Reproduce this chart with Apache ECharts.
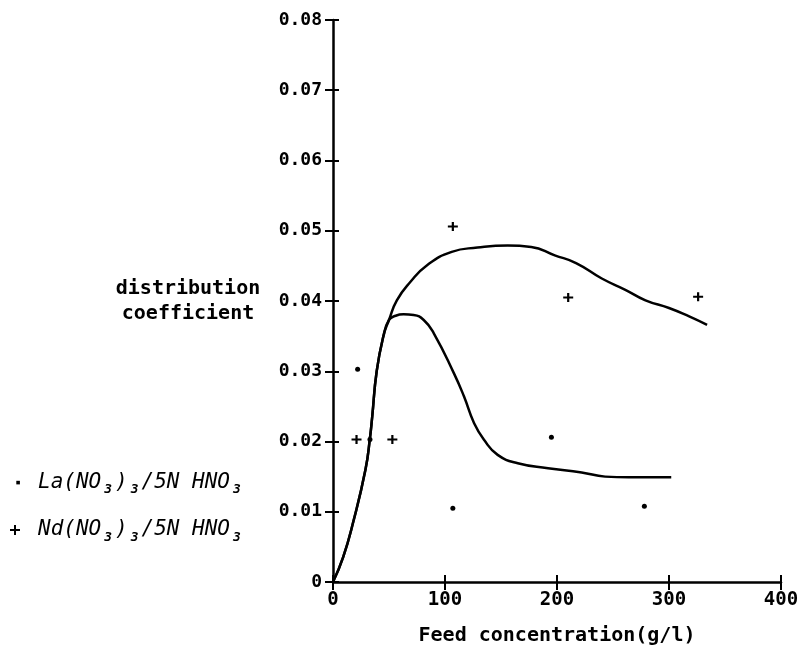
<!DOCTYPE html>
<html><head><meta charset="utf-8">
<script src="https://cdn.jsdelivr.net/npm/echarts@6/dist/echarts.min.js"></script>
<style>html,body{margin:0;padding:0;background:#fff}#c{width:804px;height:653px}</style>
</head><body><div id="c"></div><script>
// ---- data ----
const xTickValues = [0, 100, 200, 300, 400];
const yTickLabels = ['0', '0.01', '0.02', '0.03', '0.04', '0.05', '0.06', '0.07', '0.08'];
const laName = 'La(NO3)3/5N HNO3';
const ndName = 'Nd(NO3)3/5N HNO3';
// measured points: [feed concentration g/l, distribution coefficient]
const laPoints = [[22, 0.0303], [33, 0.0203], [107, 0.0105], [195, 0.0206], [278, 0.0108]];
const ndPoints = [[21, 0.0203], [53, 0.0203], [107, 0.0506], [210, 0.0405], [326, 0.0406]];
// fitted curves
const laCurve = [[0, 0], [9, 0.0035], [18, 0.0085], [29, 0.016], [33, 0.0205], [35, 0.0235], [39, 0.030],
  [45, 0.035], [50, 0.0373], [56, 0.0379], [63, 0.0381], [72, 0.038], [81, 0.0373], [90, 0.0354],
  [108, 0.0297], [117, 0.0264], [126, 0.0226], [135, 0.0202], [147, 0.0181], [165, 0.0169],
  [192, 0.0162], [222, 0.0156], [243, 0.015], [264, 0.0149], [302, 0.0149]];
const ndCurve = [[0, 0], [9, 0.0035], [18, 0.0085], [29, 0.016], [33, 0.0205], [35, 0.0235], [39, 0.030],
  [45, 0.035], [50, 0.0373], [57, 0.0401], [69, 0.0427], [84, 0.0451], [106, 0.047], [129, 0.0476],
  [156, 0.0479], [177, 0.0477], [198, 0.0465], [217, 0.0454], [240, 0.0432], [261, 0.0416],
  [279, 0.0401], [300, 0.039], [318, 0.0378], [334, 0.0366]];

// ---- styling ----
const FONT = 'DejaVu Sans Mono';
const PLUS = 'path://M0,3.9L10,3.9L10,6.1L0,6.1Z M3.9,0L6.1,0L6.1,10L3.9,10Z';
const LEG_DOT = 'path://M0,0M28,12M11.3,4.3h3.6v3.6h-3.6Z';
const LEG_PLUS = 'path://M0,0M28,12M5,5L15,5L15,7L5,7Z M9,1L11,1L11,11L9,11Z';

const chart = echarts.init(document.getElementById('c'), null, { renderer: 'canvas' });
const axisCommon = { type: 'value', splitLine: { show: false } };
chart.setOption({
  backgroundColor: '#fff',
  animation: false,
  grid: { left: 333, right: 23, top: 20, bottom: 71, containLabel: false },
  legend: {
    orient: 'vertical', left: 0, top: 467, itemGap: 23,
    itemWidth: 28, itemHeight: 12, selectedMode: false,
    data: [{ name: laName, icon: LEG_DOT }, { name: ndName, icon: LEG_PLUS }],
    itemStyle: { color: '#000' },
    formatter: n => n.replace('O3)3', 'O{s|3}){s|3}').replace(/HNO3$/, 'HNO{s|3}'),
    textStyle: {
      fontFamily: FONT, fontStyle: 'italic', fontSize: 21, color: '#000',
      rich: { s: { fontFamily: FONT, fontStyle: 'italic', fontWeight: 'bold', fontSize: 13, color: '#000', padding: [15, 3, 0, 3] } }
    }
  },
  xAxis: [
    Object.assign({}, axisCommon, {
      min: 0, max: 400, interval: 100, position: 'bottom',
      name: 'Feed concentration(g/l)', nameLocation: 'middle', nameGap: 44,
      nameTextStyle: { fontFamily: FONT, fontSize: 20, fontWeight: 'bold', color: '#000' },
      axisLine: { show: true, lineStyle: { color: '#000', width: 2.5 } },
      axisTick: { show: true, inside: false, length: 8, lineStyle: { color: '#000', width: 2 } },
      axisLabel: { fontFamily: FONT, fontSize: 19, fontWeight: 'bold', color: '#000', margin: 9,
        formatter: v => String(xTickValues[xTickValues.indexOf(v)]) }
    }),
    Object.assign({}, axisCommon, {
      min: 0, max: 400, interval: 100, position: 'bottom',
      axisLine: { show: false }, axisLabel: { show: false },
      axisTick: { show: true, inside: true, length: 7, lineStyle: { color: '#000', width: 2 } }
    })
  ],
  yAxis: [
    Object.assign({}, axisCommon, {
      min: 0, max: 0.08, interval: 0.01, position: 'left',
      name: 'distribution\ncoefficient', nameLocation: 'middle', nameRotate: 0, nameGap: 145,
      nameTextStyle: { fontFamily: FONT, fontSize: 20, fontWeight: 'bold', color: '#000', align: 'center', lineHeight: 25 },
      axisLine: { show: true, lineStyle: { color: '#000', width: 2.5 } },
      axisTick: { show: true, inside: false, length: 8, lineStyle: { color: '#000', width: 2 } },
      axisLabel: { fontFamily: FONT, fontSize: 18, fontWeight: 'bold', color: '#000', margin: 11,
        formatter: v => yTickLabels[Math.round(v * 100)] }
    }),
    Object.assign({}, axisCommon, {
      min: 0, max: 0.08, interval: 0.01, position: 'left',
      axisLine: { show: false }, axisLabel: { show: false },
      axisTick: { show: true, inside: true, length: 6, lineStyle: { color: '#000', width: 2 } }
    })
  ],
  series: [
    { name: laName, type: 'scatter', data: laPoints, symbol: 'circle', symbolSize: 5,
      itemStyle: { color: '#000', opacity: 1 }, z: 5 },
    { name: ndName, type: 'scatter', data: ndPoints, symbol: PLUS, symbolSize: [10, 9],
      itemStyle: { color: '#000', opacity: 1 }, z: 5 },
    { name: 'La fit', type: 'line', data: laCurve, smooth: 0.5, showSymbol: false, symbol: 'none',
      lineStyle: { color: '#000', width: 2.5 }, z: 3 },
    { name: 'Nd fit', type: 'line', data: ndCurve, smooth: 0.5, showSymbol: false, symbol: 'none',
      lineStyle: { color: '#000', width: 2.5 }, z: 3 }
  ]
});
</script></body></html>
